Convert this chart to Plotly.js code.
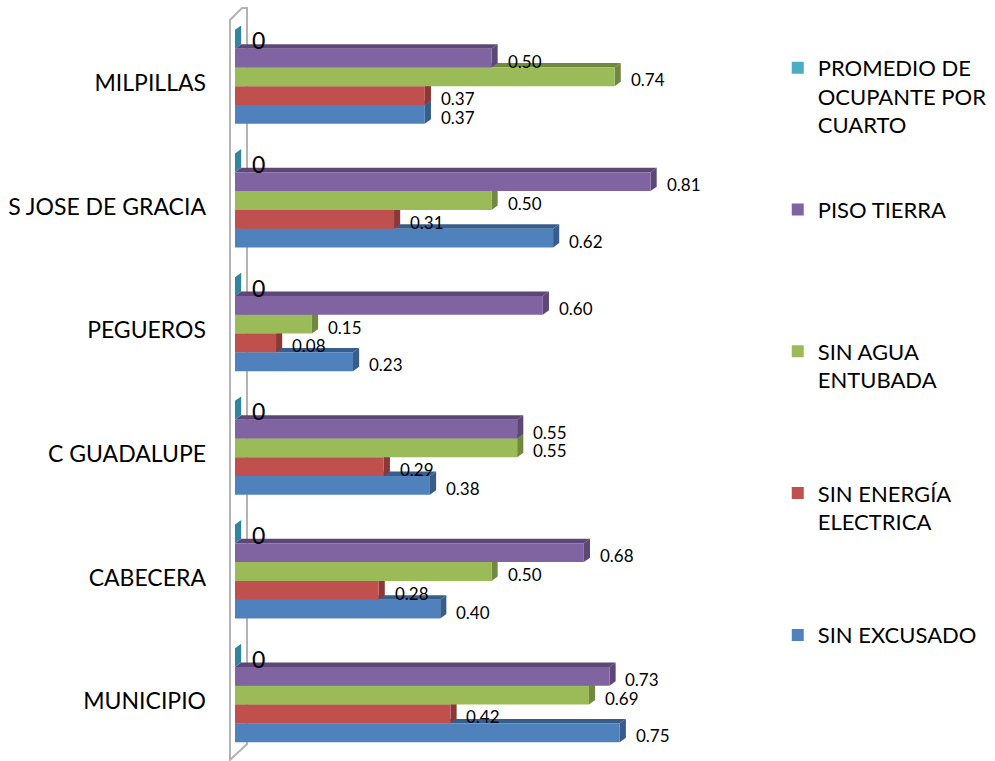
<!DOCTYPE html>
<html>
<head>
<meta charset="utf-8">
<script src="https://cdn.plot.ly/plotly-3.0.1.min.js"></script>
<style>html,body{margin:0;padding:0;background:#fff;}#chart{width:995px;height:761px;}</style>
</head>
<body>
<div id="chart"></div>
<script>
// ---- data ----
const categories = ['MUNICIPIO', 'CABECERA', 'C GUADALUPE', 'PEGUEROS', 'S JOSE DE GRACIA', 'MILPILLAS'];
const sinExcusado = [0.75, 0.40, 0.38, 0.23, 0.62, 0.37];
const sinEnergia  = [0.42, 0.28, 0.29, 0.08, 0.31, 0.37];
const sinAgua     = [0.69, 0.50, 0.55, 0.15, 0.50, 0.74];
const pisoTierra  = [0.73, 0.68, 0.55, 0.60, 0.81, 0.50];
const promedio    = [0, 0, 0, 0, 0, 0];
const seriesNames = ['SIN EXCUSADO', 'SIN ENERGÍA<br>ELECTRICA', 'SIN AGUA<br>ENTUBADA', 'PISO TIERRA', 'PROMEDIO DE<br>OCUPANTE POR<br>CUARTO'];

// ---- styles ----
const seriesValues = [sinExcusado, sinEnergia, sinAgua, pisoTierra, promedio];
const fillColors = ['#4f81bd', '#c0504d', '#9bbb59', '#8064a2', '#4bacc6'];
const darkColors = ['#385d8a', '#8c3836', '#71893f', '#5c4776', '#31859c'];
const FONT = 'Lato, "Open Sans", sans-serif';
const BARGAP = 0.24;
const NS = seriesValues.length;
const W = (1 - BARGAP) / NS;
const DX = 0.012;   // 3D depth along value axis (data units)
const DY = 0.036;   // 3D depth along category axis (category units)

function padLines(s, n) {
  const k = s.split('<br>').length;
  let out = s;
  for (let i = k; i < n; i++) out += '<br> ';
  return out;
}

const traces = seriesValues.map((vals, i) => ({
  type: 'bar',
  orientation: 'h',
  name: padLines(seriesNames[i], 3),
  legendgroup: 'g' + i,
  legendrank: NS - i,
  x: vals,
  y: categories,
  marker: {color: fillColors[i], line: {width: 0}},
  hoverinfo: 'x+name'
}));

const shapes = [];
const annotations = [];
seriesValues.forEach((vals, i) => {
  vals.forEach((v, j) => {
    const yc = j - (1 - BARGAP) / 2 + (i + 0.5) * W;
    const yb = yc - W / 2, yt = yc + W / 2;
    // top face
    shapes.push({
      type: 'path', xref: 'x', yref: 'y', layer: 'below',
      path: `M0,${yt} L${v},${yt} L${v + DX},${yt + DY} L${DX},${yt + DY} Z`,
      fillcolor: darkColors[i], line: {width: 0}
    });
    // end face
    shapes.push({
      type: 'path', xref: 'x', yref: 'y', layer: 'below',
      path: `M${v},${yb} L${v},${yt} L${v + DX},${yt + DY} L${v + DX},${yb + DY} Z`,
      fillcolor: darkColors[i], line: {width: 0}
    });
    const isZero = (i === NS - 1);
    annotations.push({
      x: v, y: yc, xref: 'x', yref: 'y',
      text: isZero ? String(v) : v.toFixed(2),
      showarrow: false, xanchor: 'left', yanchor: 'middle',
      xshift: isZero ? 15 : 14, yshift: isZero ? -1 : -3,
      font: {family: FONT, size: isZero ? 23 : 17, color: '#000'}
    });
  });
});

// side wall (decoration), in paper coordinates of the plot area
const L = 235, T = 15, PW = 513, PH = 742;
const px = p => (p - L) / PW;
const py = p => (T + PH - p) / PH;
shapes.push({
  type: 'path', xref: 'paper', yref: 'paper', layer: 'below',
  path: `M${px(230)},${py(760)} L${px(230)},${py(20)} L${px(242)},${py(8)} L${px(247)},${py(8)} L${px(247)},${py(744)} Z`,
  line: {color: '#b3b3b3', width: 2}, fillcolor: 'rgba(0,0,0,0)'
});

const layout = {
  width: 995, height: 761,
  margin: {l: L, r: 995 - L - PW, t: T, b: 761 - T - PH, autoexpand: false},
  paper_bgcolor: '#fff', plot_bgcolor: '#fff',
  barmode: 'group', bargap: BARGAP, bargroupgap: 0,
  showlegend: true,
  legend: {
    x: 1.058, xanchor: 'left', y: 0.957, yanchor: 'top',
    traceorder: 'grouped', tracegroupgap: 53, valign: 'top',
    font: {family: FONT, size: 22, color: '#000'}, bgcolor: 'rgba(0,0,0,0)'
  },
  xaxis: {range: [0, 1], visible: false, fixedrange: true},
  yaxis: {
    type: 'category', range: [-0.5, 5.5], showgrid: false, zeroline: false, showline: false,
    ticks: '', ticklabelstandoff: 28, ticklabelshift: 6,
    tickfont: {family: FONT, size: 23, color: '#000'}, fixedrange: true
  },
  shapes: shapes,
  annotations: annotations,
  font: {family: FONT}
};

Plotly.newPlot('chart', traces, layout, {displayModeBar: false, staticPlot: true});
</script>
</body>
</html>
